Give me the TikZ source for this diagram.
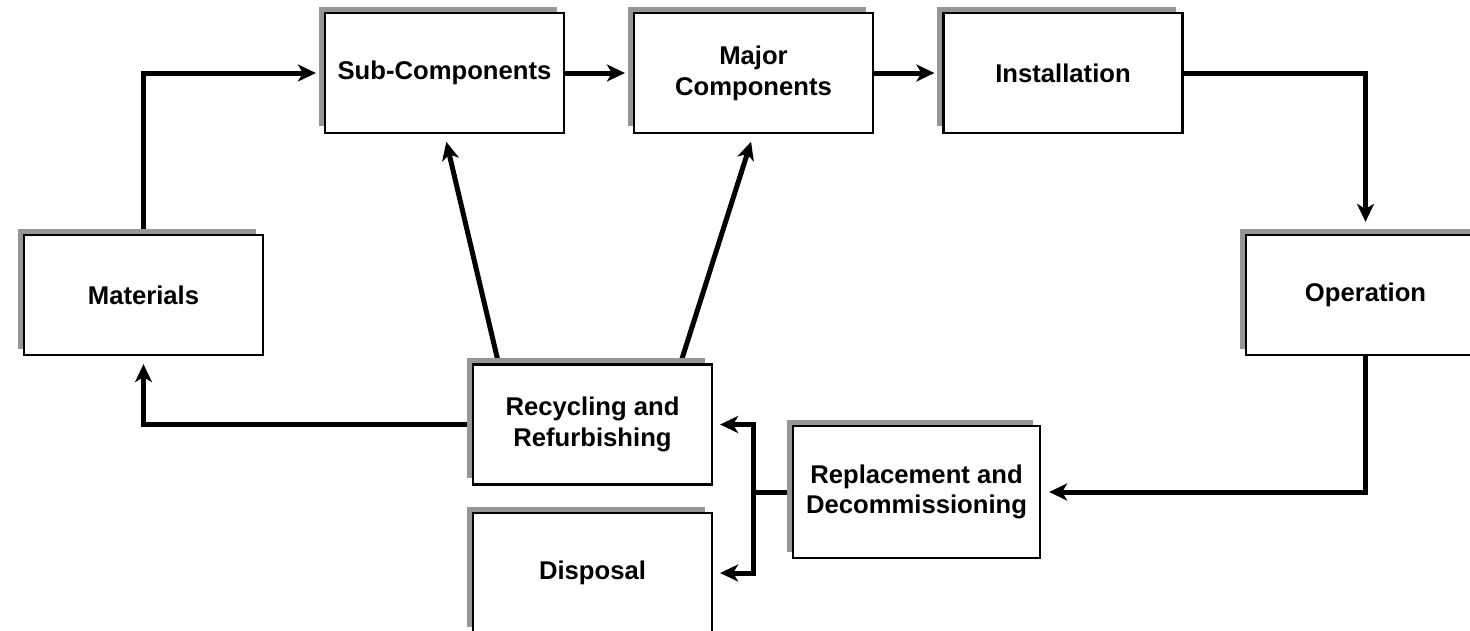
\documentclass[tikz,border=0pt]{standalone}
\usepackage{fontspec}
\setmainfont{Liberation Sans}
\usepackage{xcolor}
\usepackage{tikz}
\usetikzlibrary{shadows,arrows.meta,backgrounds}
\definecolor{shadowgray}{RGB}{150,150,150}

\begin{document}
\begin{tikzpicture}[x=0.02cm, y=-0.02cm,
    box/.style={draw, line width=0.045cm, fill=white, minimum width=4.78cm, minimum height=2.4cm,
        inner sep=0pt, align=center, font=\fontsize{14.6}{17.5}\selectfont\bfseries,
        drop shadow={shadow xshift=-0.13cm, shadow yshift=0.13cm, fill=shadowgray, opacity=1}},
    flow/.style={line width=0.1cm, -{Stealth[length=0.36cm, width=0.34cm, inset=0.1cm]}, shorten >=0.16cm}]
    \useasboundingbox (0,0) rectangle (1470,630);

    \node[box] (mat) at (143.5,295) {Materials};
    \node[box] (sub) at (444.5,73) {Sub-Components};
    \node[box] (major) at (753.5,73) {Major\\Components};
    \node[box] (inst) at (1063,73) {Installation};
    \node[box] (oper) at (1365.5,295) {Operation};
    \node[box, minimum width=4.94cm, minimum height=2.64cm] (repl) at (916.5,492) {Replacement and\\Decommissioning};
    \node[box] (recyc) at (592.5,424.5) {Recycling and\\Refurbishing};
    \node[box] (disp) at (592.5,573) {Disposal};

    \begin{scope}[on background layer]
    \draw[flow] (mat.north) |- (sub.west);
    \draw[flow] (sub) -- (major);
    \draw[flow] (major) -- (inst);
    \draw[flow, shorten >=0.24cm] (inst.east) -| (oper.north);
    \draw[flow] (oper.south) |- (repl.east);
    \draw[line width=0.1cm] (repl.west) -- ++(-38,0) coordinate (fork);
    \draw[flow, shorten >=0.14cm] (fork) |- (recyc.east);
    \draw[flow, shorten >=0.14cm] (fork) |- (disp.east);
    \draw[flow] (recyc.west) -| (mat.south);
    \draw[flow] ([xshift=-1.88cm]recyc.north) -- (sub.south);
    \draw[flow] ([xshift=1.76cm]recyc.north) -- (major.south);
    \end{scope}
\end{tikzpicture}
\end{document}
